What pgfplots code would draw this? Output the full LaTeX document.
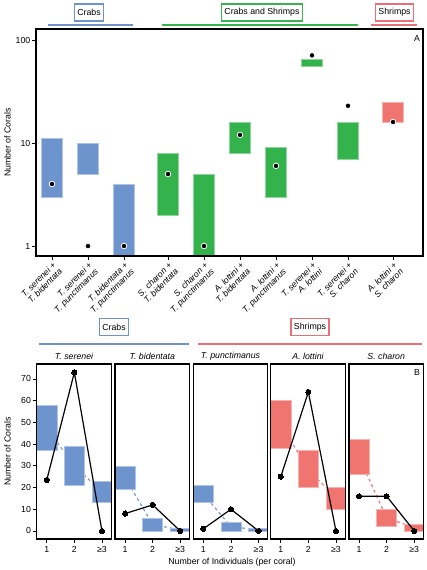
\documentclass[border=0pt]{standalone}
\usepackage{pgfplots}
\pgfplotsset{compat=1.18}
\usepackage{fontspec}
\setmainfont{Liberation Sans}
\definecolor{cbblue}{RGB}{110,148,205}
\definecolor{cbgreen}{RGB}{52,178,76}
\definecolor{cbred}{RGB}{240,116,112}
\definecolor{lnblue}{RGB}{112,146,204}
\definecolor{lngreen}{RGB}{55,180,78}
\definecolor{lnred}{RGB}{232,112,118}
\newcommand{\fbar}[5]{\addplot[fill=#1, draw=#1!55!white, line width=0.6bp] coordinates {(#2,#4) (#3,#4) (#3,#5) (#2,#5)} -- cycle;}
\pgfplotsset{
  common/.style={scale only axis, anchor=south west, axis on top,
    tick align=outside, major tick length=4bp,
    xtick pos=bottom, ytick pos=left,
    axis line style={line width=1.1bp, black},
    every tick/.style={black, line width=0.8bp},
    /pgf/number format/assume math mode=true,
    yticklabel style={inner xsep=1.5bp}},
  bpanel/.style={common, width=74.5bp, height=175bp,
    xmin=0.635, xmax=3.335, ymin=-3.7, ymax=76.9,
    xtick={1,2,3}, xticklabels={1,2,≥3}, ytick=\empty,
    xticklabel style={inner ysep=3.2bp}},
  dotline/.style={black, line width=1.2bp, mark=*, mark size=2.6bp, mark options={fill=black, draw=black, line width=0pt}},
}
\begin{document}
\fontsize{8.8}{10.5}\selectfont
\begin{tikzpicture}
\useasboundingbox (0,0) rectangle (427bp,570bp);
% ---------- top panel ----------
\begin{axis}[common, at={(36bp,314bp)}, width=387bp, height=227bp,
  xmin=36, xmax=423, ymode=log, ymin=0.8, ymax=128,
  ytick={1,10,100}, yticklabels={1,10,100}, yminorticks=false,
  xtick={52,88,124,168,204,240,276,312,348,393},
  xticklabels={{T. serenei +\\T. bidentata},{T. serenei +\\T. punctimanus},{T. bidentata +\\T. punctimanus},
    {S. charon +\\T. bidentata},{S. charon +\\T. punctimanus},{A. lottini +\\T. bidentata},
    {A. lottini +\\T. punctimanus},{T. serenei +\\A. lottini},{T. serenei +\\S. charon},{A. lottini +\\S. charon}},
  xticklabel style={rotate=45, anchor=north east, align=right, inner sep=1bp,
    font=\itshape\fontsize{8.6}{9}\selectfont}]
\fbar{cbblue}{41.7}{62.3}{3}{11}
\fbar{cbblue}{77.7}{98.3}{5}{10}
\fbar{cbblue}{113.7}{134.3}{0.5}{4}
\fbar{cbgreen}{157.7}{178.3}{2}{8}
\fbar{cbgreen}{193.7}{214.3}{0.5}{5}
\fbar{cbgreen}{229.7}{250.3}{8}{16}
\fbar{cbgreen}{265.7}{286.3}{3}{9}
\fbar{cbgreen}{301.7}{322.3}{56}{65}
\fbar{cbgreen}{337.7}{358.3}{7}{16}
\fbar{cbred}{382.7}{403.3}{16}{25}
\addplot[only marks, mark=*, mark size=2.8bp, mark options={fill=black, draw=white, line width=0.8bp}]
  coordinates {(52,4) (88,1) (124,1) (168,5) (204,1) (240,12) (276,6) (312,71) (348,23) (393,16)};
\end{axis}
% ---------- bottom panels ----------
\begin{axis}[bpanel, at={(36.7bp,31bp)}, ytick={0,10,...,70}]
\addplot[lnblue, dashed, line width=1.1bp] coordinates {(1,47.5) (2,30) (3,18)};
\fbar{cbblue}{0.635}{1.365}{37}{58}
\fbar{cbblue}{1.635}{2.365}{21}{39}
\fbar{cbblue}{2.635}{3.365}{13}{23}
\addplot[dotline] coordinates {(1,23.5) (2,73) (3,0)};
\end{axis}
\begin{axis}[bpanel, at={(115bp,31bp)}]
\addplot[lnblue, dashed, line width=1.1bp] coordinates {(1,24.5) (2,3) (3,0.5)};
\fbar{cbblue}{0.635}{1.365}{19}{30}
\fbar{cbblue}{1.635}{2.365}{0}{6}
\fbar{cbblue}{2.635}{3.365}{0}{1}
\addplot[dotline] coordinates {(1,8) (2,12) (3,0)};
\end{axis}
\begin{axis}[bpanel, at={(193.3bp,31bp)}]
\addplot[lnblue, dashed, line width=1.1bp] coordinates {(1,17) (2,2) (3,0.5)};
\fbar{cbblue}{0.635}{1.365}{13}{21}
\fbar{cbblue}{1.635}{2.365}{0}{4}
\fbar{cbblue}{2.635}{3.365}{0}{1}
\addplot[dotline] coordinates {(1,1) (2,10) (3,0)};
\end{axis}
\begin{axis}[bpanel, at={(270.7bp,31bp)}]
\addplot[lnred, dashed, line width=1.1bp] coordinates {(1,49) (2,28.5) (3,15)};
\fbar{cbred}{0.635}{1.365}{38}{60}
\fbar{cbred}{1.635}{2.365}{20}{37}
\fbar{cbred}{2.635}{3.365}{10}{20}
\addplot[dotline] coordinates {(1,25) (2,64) (3,0)};
\end{axis}
\begin{axis}[bpanel, at={(349bp,31bp)}]
\addplot[lnred, dashed, line width=1.1bp] coordinates {(1,34) (2,6) (3,1.5)};
\fbar{cbred}{0.635}{1.365}{26}{42}
\fbar{cbred}{1.635}{2.365}{2}{10}
\fbar{cbred}{2.635}{3.365}{0}{3}
\addplot[dotline] coordinates {(1,16) (2,16) (3,0)};
\end{axis}
% ---------- annotations ----------
\tikzset{hbox/.style={draw=#1, line width=1.4bp, fill=white, inner xsep=2.8bp, inner ysep=0bp, minimum height=17bp}}
\draw[lnblue, line width=2bp] (48bp,545bp) -- (133bp,545bp);
\draw[lngreen, line width=2bp] (162bp,545bp) -- (358bp,545bp);
\draw[lnred, line width=2bp] (371bp,545bp) -- (417bp,545bp);
\node[hbox=lnblue] at (89bp,557.5bp) {Crabs};
\node[hbox=lngreen] at (262bp,557.5bp) {Crabs and Shrimps};
\node[hbox=lnred] at (394.5bp,557.5bp) {Shrimps};
\draw[lnblue, line width=2bp] (39bp,225.7bp) -- (189bp,225.7bp);
\draw[lnred, line width=2bp] (198bp,225.7bp) -- (421.7bp,225.7bp);
\node[hbox=lnblue] at (114bp,243bp) {Crabs};
\node[hbox=lnred] at (310bp,243bp) {Shrimps};
\node[font=\itshape] at (74bp,214bp) {T. serenei};
\node[font=\itshape] at (152.3bp,214bp) {T. bidentata};
\node[font=\itshape] at (230.5bp,214bp) {T. punctimanus};
\node[font=\itshape] at (308bp,214bp) {A. lottini};
\node[font=\itshape] at (386.2bp,214bp) {S. charon};
\node at (417bp,532bp) {A};
\node at (417bp,198bp) {B};
\node[rotate=90] at (7.5bp,427.5bp) {Number of Corals};
\node[rotate=90] at (7.5bp,118.5bp) {Number of Corals};
\node at (232bp,7.3bp) {Number of Individuals (per coral)};
\end{tikzpicture}
\end{document}
